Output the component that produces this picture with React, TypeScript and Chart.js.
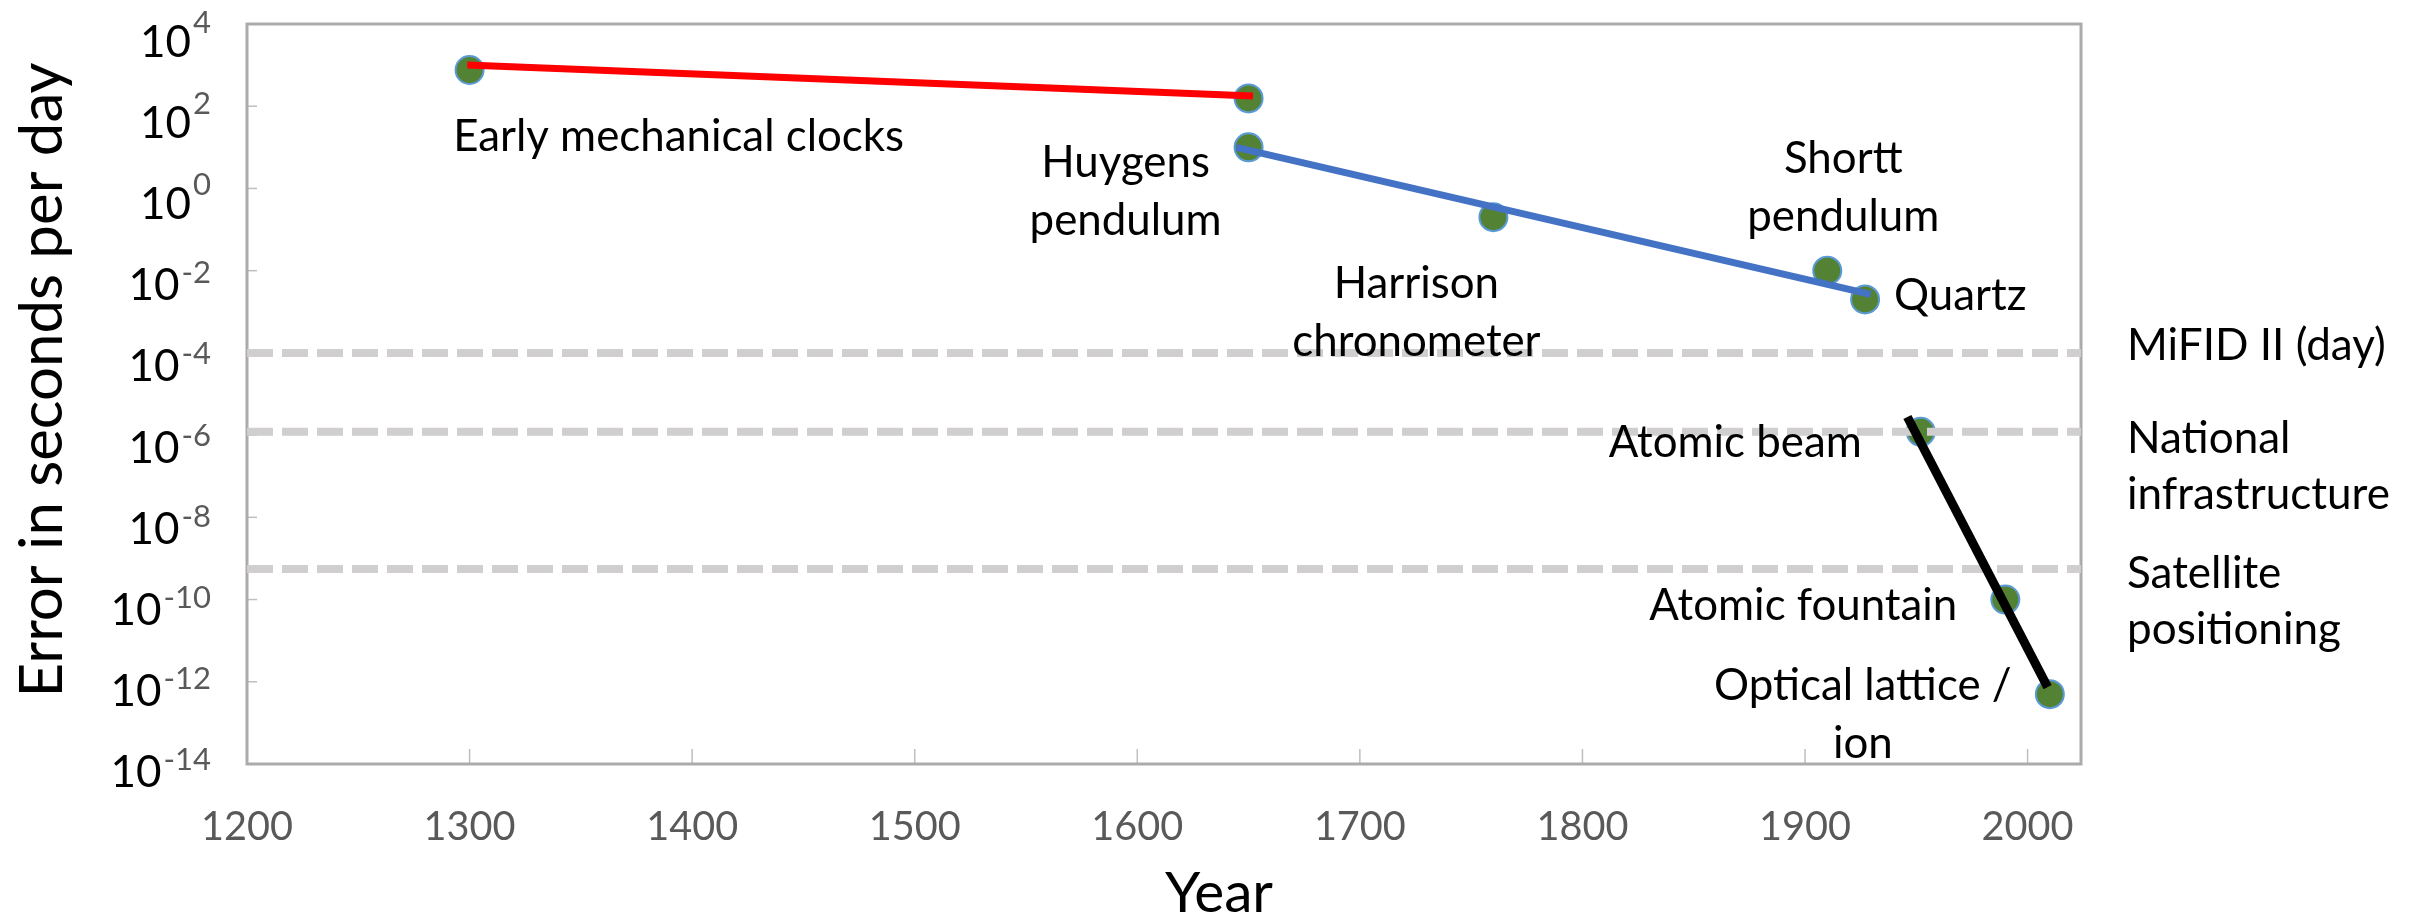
import React, { useEffect, useRef } from "react";
import { Chart, registerables } from "chart.js";

Chart.register(...registerables);

const W = 2425;
const H = 920;
const FONT = "Lato, 'Open Sans', sans-serif";

// ---- data ----
const clockNames = [
  "Early mechanical clocks",
  "",
  "Huygens\npendulum",
  "Harrison\nchronometer",
  "Shortt\npendulum",
  "Quartz",
  "Atomic beam",
  "Atomic fountain",
  "Optical lattice /\nion",
];
const clockYears = [1300, 1650, 1650, 1760, 1910, 1927, 1952, 1990, 2010];
const clockErrors = [760, 155, 10, 0.2, 0.01, 0.002, 1.2e-6, 1e-10, 5e-13];

const mechYears = [1299, 1652];
const mechErrors = [1000, 178];
const pendYears = [1644.5, 1929.5];
const pendErrors = [10, 0.00266];
const atomYears = [1946, 2009];
const atomErrors = [2.75e-6, 7.4e-13];

const thresholdNames = ["MiFID II (day)", "National\ninfrastructure", "Satellite\npositioning"];
const thresholdErrors = [1e-4, 1.2e-6, 5.5e-10];

const xTicks = [1200, 1300, 1400, 1500, 1600, 1700, 1800, 1900, 2000];
const yTickExponents = [4, 2, 0, -2, -4, -6, -8, -10, -12, -14];
const xMin = 1200;
const xMax = 2024;
const yMin = 1e-14;
const yMax = 1e4;

// ---- label layout (pixel offsets from each point) ----
const labelLayout: Array<{ dx: number; dy: number; align: CanvasTextAlign } | null> = [
  { dx: 209, dy: 81, align: "center" },
  null,
  { dx: -123, dy: 30, align: "center" },
  { dx: -77, dy: 81, align: "center" },
  { dx: 16, dy: -98, align: "center" },
  { dx: 29, dy: 11, align: "left" },
  { dx: -59, dy: 25, align: "right" },
  { dx: -48, dy: 20, align: "right" },
  { dx: -187, dy: 6, align: "center" },
];
const thresholdDy = [7, 21, 19];

function fitSize(ctx: CanvasRenderingContext2D, text: string, target: number) {
  ctx.font = `100px ${FONT}`;
  const w = ctx.measureText(text).width;
  return (100 * target) / w;
}

const decor = {
  id: "decor",
  beforeDatasetsDraw(chart: any) {
    const { ctx, chartArea: a } = chart;
    const { x, y } = chart.scales;
    ctx.save();
    ctx.strokeStyle = "#BFBFBF";
    ctx.lineWidth = 1.5;
    yTickExponents.forEach((e) => {
      const py = y.getPixelForValue(Math.pow(10, e));
      ctx.beginPath();
      ctx.moveTo(a.left, py);
      ctx.lineTo(a.left + 10, py);
      ctx.stroke();
    });
    xTicks.forEach((t) => {
      const px = x.getPixelForValue(t);
      ctx.beginPath();
      ctx.moveTo(px, a.bottom);
      ctx.lineTo(px, a.bottom - 15);
      ctx.stroke();
    });
    ctx.strokeStyle = "#ADAAAA";
    ctx.lineWidth = 3;
    ctx.strokeRect(a.left, a.top, a.right - a.left, a.bottom - a.top);
    ctx.restore();
  },
  afterDraw(chart: any) {
    const { ctx, chartArea: a } = chart;
    const { x, y } = chart.scales;
    ctx.save();
    ctx.textBaseline = "alphabetic";

    // y tick labels 10^n
    const n = yTickExponents.length - 1;
    yTickExponents.forEach((e, i) => {
      const py = y.getPixelForValue(Math.pow(10, e)) + 33 - (10 * i) / n;
      const right = a.left - 36;
      const expText = String(e);
      ctx.textAlign = "right";
      ctx.font = `31px ${FONT}`;
      ctx.fillStyle = "#595959";
      ctx.fillText(expText, right, py - (e >= 0 ? 24 : 17));
      const ew = ctx.measureText(expText).width;
      ctx.font = `44px ${FONT}`;
      ctx.fillStyle = "#000000";
      ctx.fillText("10", right - ew - 2, py);
    });

    // x tick labels
    const xs = fitSize(ctx, "1200", 92);
    ctx.font = `${xs}px ${FONT}`;
    ctx.fillStyle = "#595959";
    ctx.textAlign = "center";
    xTicks.forEach((t) => {
      ctx.fillText(String(t), x.getPixelForValue(t), a.bottom + 76);
    });

    // axis titles
    const ys = fitSize(ctx, "Year", 108);
    ctx.font = `${ys}px ${FONT}`;
    ctx.fillStyle = "#000000";
    ctx.textAlign = "center";
    ctx.fillText("Year", a.left + (a.right - a.left) * 0.53, a.bottom + 148);

    const ts = fitSize(ctx, "Error in seconds per day", 635);
    ctx.save();
    ctx.translate(a.left - 185, (a.top + a.bottom) / 2 - 14);
    ctx.rotate(-Math.PI / 2);
    ctx.font = `${ts}px ${FONT}`;
    ctx.textAlign = "center";
    ctx.fillText("Error in seconds per day", 0, 0);
    ctx.restore();

    // point labels
    const ls = fitSize(ctx, "Early mechanical clocks", 451);
    ctx.font = `${ls}px ${FONT}`;
    ctx.fillStyle = "#000000";
    clockNames.forEach((name, i) => {
      const lay = labelLayout[i];
      if (!name || !lay) return;
      const px = x.getPixelForValue(clockYears[i]);
      const py = y.getPixelForValue(clockErrors[i]);
      ctx.textAlign = lay.align;
      name.split("\n").forEach((line, k) => {
        ctx.fillText(line, px + lay.dx, py + lay.dy + k * 58);
      });
    });

    // threshold labels
    const rs = fitSize(ctx, "infrastructure", 263);
    ctx.font = `${rs}px ${FONT}`;
    ctx.textAlign = "left";
    thresholdNames.forEach((name, i) => {
      const py = y.getPixelForValue(thresholdErrors[i]) + thresholdDy[i];
      name.split("\n").forEach((line, k) => {
        ctx.fillText(line, a.right + 46, py + k * 56);
      });
    });
    ctx.restore();
  },
};

export default function App() {
  const ref = useRef<HTMLCanvasElement>(null);
  useEffect(() => {
    const canvas = ref.current!;
    const lineDs = (xs: number[], ys: number[], color: string, width: number) => ({
      data: xs.map((v, i) => ({ x: v, y: ys[i] })),
      showLine: true,
      borderColor: color,
      backgroundColor: color,
      borderWidth: width,
      borderCapStyle: "butt" as const,
      pointRadius: 0,
      pointHoverRadius: 0,
      order: 1,
    });
    const dashDs = thresholdErrors.map((v) => ({
      data: [
        { x: xMin, y: v },
        { x: xMax, y: v },
      ],
      showLine: true,
      borderColor: "#D0CECE",
      borderWidth: 8,
      borderDash: [26, 9],
      borderCapStyle: "butt" as const,
      pointRadius: 0,
      pointHoverRadius: 0,
      order: 2,
    }));
    const chart = new Chart(canvas, {
      type: "scatter",
      data: {
        datasets: [
          lineDs(mechYears, mechErrors, "#FF0000", 7),
          lineDs(pendYears, pendErrors, "#4472C4", 7),
          lineDs(atomYears, atomErrors, "#000000", 9),
          ...dashDs,
          {
            data: clockYears.map((v, i) => ({ x: v, y: clockErrors[i] })),
            showLine: false,
            pointRadius: 14,
            pointHoverRadius: 14,
            pointBackgroundColor: "#548235",
            pointBorderColor: "#5B9BD5",
            pointBorderWidth: 2,
            order: 3,
          },
        ] as any,
      },
      options: {
        animation: false,
        responsive: false,
        devicePixelRatio: 1,
        events: [],
        layout: { padding: { left: 247, top: 24, right: W - 2081, bottom: H - 764 } },
        plugins: { legend: { display: false }, tooltip: { enabled: false } },
        scales: {
          x: { type: "linear", min: xMin, max: xMax, display: false },
          y: { type: "logarithmic", min: yMin, max: yMax, display: false },
        },
      },
      plugins: [decor],
    });
    return () => chart.destroy();
  }, []);
  return (
    <div style={{ position: "absolute", left: 0, top: 0, width: W, height: H, background: "#fff" }}>
      <canvas ref={ref} width={W} height={H} style={{ display: "block", width: W, height: H }} />
    </div>
  );
}
